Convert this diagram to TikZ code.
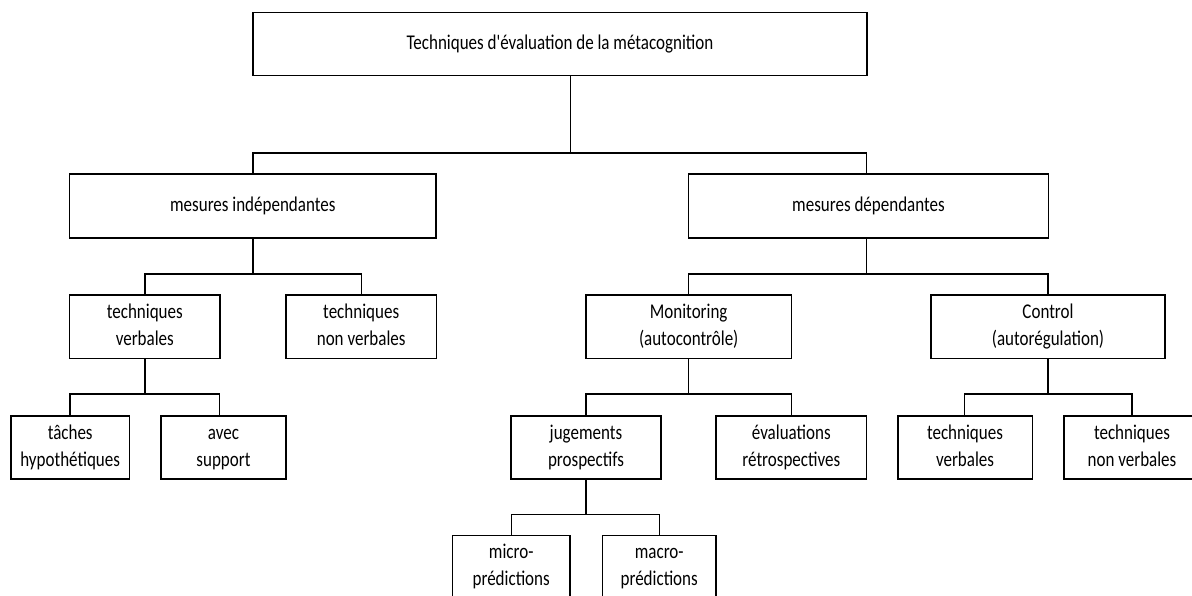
\documentclass[tikz,border=0pt]{standalone}
\usepackage{fontspec}
\setmainfont{Carlito}[FakeStretch=0.81, Ligatures=TeXOff]
\newcommand\mystrut{\rule[-5.35pt]{0pt}{21.1pt}}
\begin{document}
\begin{tikzpicture}[x=1pt,y=-1pt,
  box/.style={draw=black, line width=1.5pt, inner sep=0pt, align=center,
    font=\fontsize{21}{26.7}\selectfont, text=black},
  link/.style={draw=black, line width=1.4pt}]
\clip (0,0) rectangle (1192,596);
\fill[white] (0,0) rectangle (1192,596);
% boxes: center (cx,cy), size
\node[box, minimum width=614pt, minimum height=63pt] (top) at (560,44) {\mystrut Techniques d'évaluation de la métacognition};
\node[box, minimum width=366.4pt, minimum height=64pt] (mi) at (252.8,206) {\mystrut mesures indépendantes};
\node[box, minimum width=359.6pt, minimum height=64pt] (md) at (868.5,206) {\mystrut mesures dépendantes};
\node[box, minimum width=150.4pt, minimum height=63.3pt] (tv) at (144.8,326.7) {\mystrut techniques\\\mystrut verbales};
\node[box, minimum width=150.3pt, minimum height=63.3pt] (tnv) at (361.2,326.7) {\mystrut techniques\\\mystrut non verbales};
\node[box, minimum width=205.4pt, minimum height=63.3pt] (mon) at (688.7,326.7) {\mystrut Monitoring\\\mystrut (autocontrôle)};
\node[box, minimum width=234.1pt, minimum height=63.3pt] (ctl) at (1048,326.7) {\mystrut Control\\\mystrut (autorégulation)};
\node[box, minimum width=118.3pt, minimum height=63pt] (th) at (70.2,447.5) {\mystrut tâches\\\mystrut hypothétiques};
\node[box, minimum width=125pt, minimum height=63pt] (as) at (223.5,447.5) {\mystrut avec\\\mystrut support};
\node[box, minimum width=150pt, minimum height=63pt] (jp) at (586,447.5) {\mystrut jugements\\\mystrut prospectifs};
\node[box, minimum width=150.6pt, minimum height=63pt] (er) at (791.3,447.5) {\mystrut évaluations\\\mystrut rétrospectives};
\node[box, minimum width=134.5pt, minimum height=63pt] (tv2) at (965,447.5) {\mystrut techniques\\\mystrut verbales};
\node[box, minimum width=136pt, minimum height=63pt] (tnv2) at (1132,447.5) {\mystrut techniques\\\mystrut non verbales};
\node[box, minimum width=117.7pt, minimum height=63.3pt] (mic) at (511.2,567) {\mystrut micro-\\\mystrut prédictions};
\node[box, minimum width=113.7pt, minimum height=63.3pt] (mac) at (659.2,567) {\mystrut macro-\\\mystrut prédictions};
% bus points
\coordinate (b0) at (570.5,153);
\coordinate (b1) at (252.8,274);
\coordinate (b2) at (866.6,274);
\coordinate (b3) at (144.8,394);
\coordinate (b4) at (688.7,394);
\coordinate (b5) at (1048,394);
\coordinate (b6) at (586,514.5);
% connectors
\draw[link] (top.south -| b0) -- (b0);
\draw[link] (mi.north) |- (b0) -| (md.north -| b2);
\draw[link] (mi.south) -- (b1);
\draw[link] (tv.north) |- (b1) -| (tnv.north);
\draw[link] (md.south -| b2) -- (b2);
\draw[link] (mon.north) |- (b2) -| (ctl.north);
\draw[link] (tv.south) -- (b3);
\draw[link] ([xshift=-0.2pt]th.north) |- (b3) -| ([xshift=-4.2pt]as.north);
\draw[link] (mon.south) -- (b4);
\draw[link] (jp.north) |- (b4) -| (er.north);
\draw[link] (ctl.south) -- (b5);
\draw[link] ([xshift=-0.7pt]tv2.north) |- (b5) -| (tnv2.north);
\draw[link] (jp.south) -- (b6);
\draw[link] (mic.north) |- (b6) -| (mac.north);
\end{tikzpicture}
\end{document}
